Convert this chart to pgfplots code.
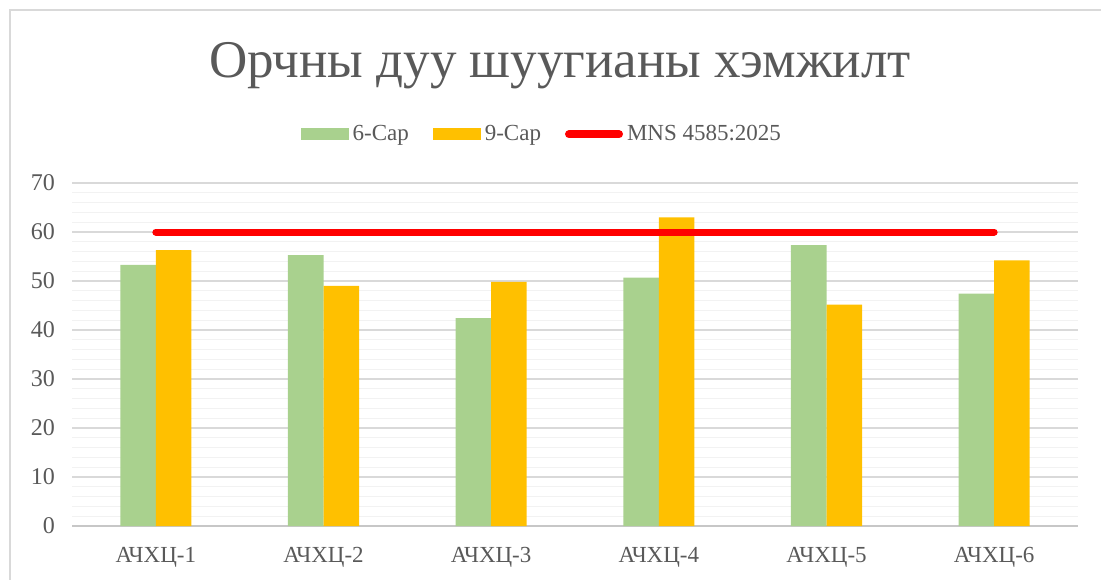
\documentclass[border=0pt]{standalone}
\usepackage{fontspec}
\setmainfont{Liberation Serif}
\usepackage{pgfplots}
\pgfplotsset{compat=1.18}
\definecolor{BarGreen}{HTML}{A9D18E}
\definecolor{BarGold}{HTML}{FFC000}
\definecolor{LimitRed}{HTML}{FF0000}
\definecolor{TextGrey}{HTML}{595959}
\definecolor{GridMajor}{HTML}{D9D9D9}
\definecolor{GridMinor}{HTML}{F2F2F2}

\begin{document}
\begin{tikzpicture}
\path[use as bounding box, clip] (0,0) rectangle (550.5pt,289.5pt);
\begin{axis}[
    at={(36pt,26.5pt)}, anchor=south west,
    scale only axis,
    width=503pt, height=171.5pt,
    xmin=-0.5, xmax=5.5,
    ymin=0, ymax=70,
    xtick={0,1,2,3,4,5},
    xticklabels={АЧХЦ-1,АЧХЦ-2,АЧХЦ-3,АЧХЦ-4,АЧХЦ-5,АЧХЦ-6},
    major x tick style={draw=none},
    extra x ticks={-0.5,0.5,1.5,2.5,3.5,4.5,5.5},
    extra x tick labels={},
    extra x tick style={major tick length=3.5pt, tick align=outside,
        major tick style={draw=GridMajor!80!gray, line width=0.6pt}, grid=none},
    ytick={0,10,...,70},
    minor y tick num=4,
    ymajorgrids, yminorgrids,
    major grid style={GridMajor, line width=0.6pt},
    minor grid style={GridMinor, line width=0.6pt},
    y axis line style={draw=none},
    axis x line*=bottom,
    axis y line*=left,
    x axis line style={draw=GridMajor!80!gray, line width=0.6pt, -},
    major y tick style={draw=none}, minor y tick style={draw=none},
    tick label style={font=\fontsize{12}{14}\selectfont, text=TextGrey},
    xticklabel style={font=\fontsize{11.5}{14}\selectfont, yshift=-7pt},
    yticklabel style={xshift=-5pt},
    /pgf/number format/assume math mode=true,
    clip=false,
    legend columns=3,
    legend style={at={(0.468,1.142)}, anchor=center, draw=none, fill=none,
        font=\fontsize{11.5}{14}\selectfont, text=TextGrey,
        /tikz/every even column/.append style={column sep=10pt}},
]
\addplot[ybar, bar width=0.212, bar shift=-0.106, fill=BarGreen, draw=none,
    legend image code/.code={\fill[BarGreen] (0pt,-3pt) rectangle (24pt,3pt);}]
    coordinates {(0,53.3) (1,55.3) (2,42.4) (3,50.7) (4,57.3) (5,47.4)};
\addlegendentry{6-Сар}
\addplot[ybar, bar width=0.212, bar shift=0.106, fill=BarGold, draw=none,
    legend image code/.code={\fill[BarGold] (0pt,-3pt) rectangle (24pt,3pt);}]
    coordinates {(0,56.3) (1,49.0) (2,49.8) (3,63.0) (4,45.2) (5,54.2)};
\addlegendentry{9-Сар}
\addplot[sharp plot, LimitRed, line width=3.5pt, line cap=round, mark=none,
    legend image code/.code={\draw[LimitRed, line width=4pt, line cap=round] (1pt,0pt) -- (26pt,0pt);}]
    coordinates {(0,60) (1,60) (2,60) (3,60) (4,60) (5,60)};
\addlegendentry{MNS 4585:2025}
\node[text=TextGrey, font=\fontsize{26.5}{30}\selectfont] at (rel axis cs:0.485,1.342) {Орчны дуу шуугианы хэмжилт};
\end{axis}
\draw[GridMajor, line width=1.2pt] (5pt,-20pt) -- (5pt,284.5pt) -- (600pt,284.5pt);
\end{tikzpicture}
\end{document}
